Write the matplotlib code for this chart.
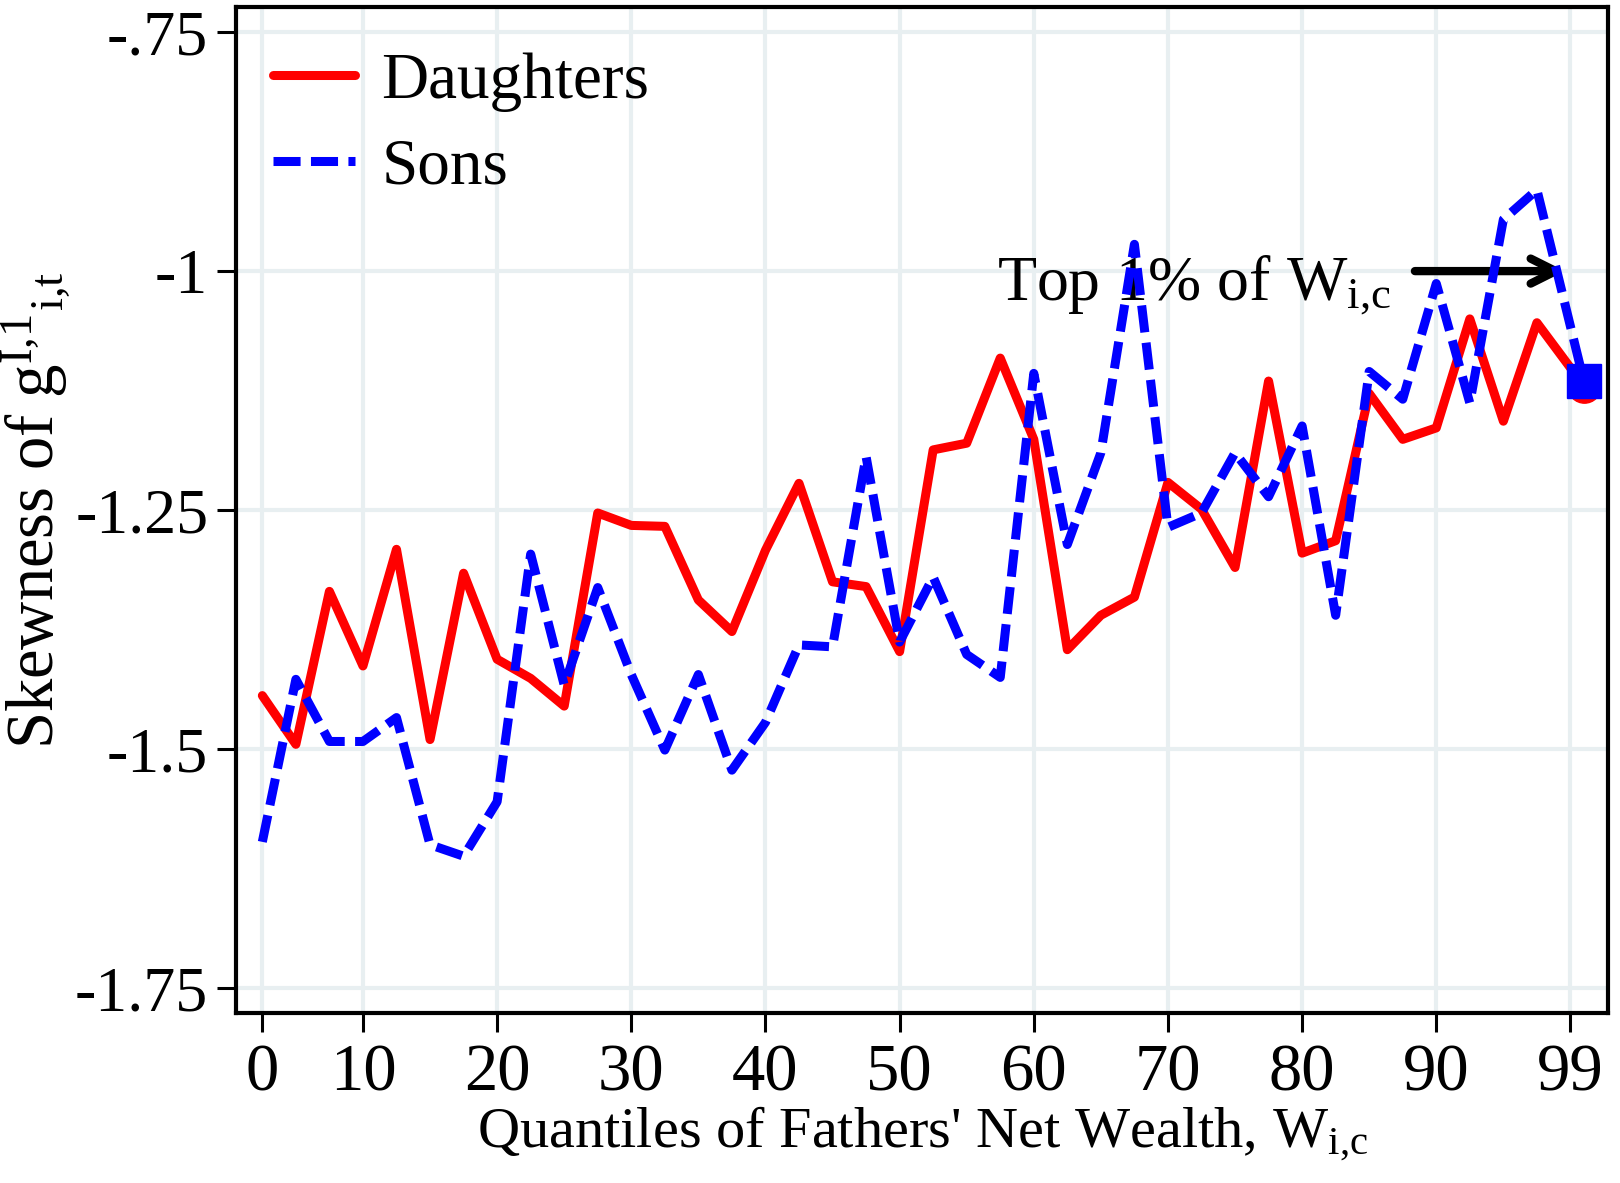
import matplotlib
matplotlib.use("Agg")
import matplotlib.pyplot as plt

plt.rcParams['font.family'] = ['Liberation Serif', 'DejaVu Serif']
plt.rcParams['mathtext.fontset'] = 'custom'
plt.rcParams['mathtext.rm'] = 'Liberation Serif'
plt.rcParams['mathtext.it'] = 'Liberation Serif'

# quantile positions (last one = top 1%)
quantiles = [2.5, 5, 7.5, 10, 12.5, 15, 17.5, 20, 22.5, 25,
             27.5, 30, 32.5, 35, 37.5, 40, 42.5, 45, 47.5, 50,
             52.5, 55, 57.5, 60, 62.5, 65, 67.5, 70, 72.5, 75,
             77.5, 80, 82.5, 85, 87.5, 90, 92.5, 95, 97.5, 101]

daughters = [-1.444, -1.495, -1.335, -1.413, -1.291, -1.490, -1.316, -1.406, -1.426, -1.455,
             -1.253, -1.266, -1.267, -1.344, -1.377, -1.292, -1.222, -1.325, -1.330, -1.398,
             -1.187, -1.180, -1.091, -1.176, -1.396, -1.360, -1.341, -1.221, -1.249, -1.310,
             -1.115, -1.295, -1.282, -1.128, -1.176, -1.164, -1.050, -1.157, -1.054, -1.120]

sons = [-1.597, -1.427, -1.492, -1.492, -1.467, -1.600, -1.612, -1.555, -1.296, -1.433,
        -1.331, -1.422, -1.501, -1.422, -1.522, -1.472, -1.391, -1.393, -1.194, -1.388,
        -1.320, -1.401, -1.425, -1.107, -1.286, -1.190, -0.972, -1.268, -1.253, -1.190,
        -1.236, -1.162, -1.360, -1.105, -1.134, -1.013, -1.138, -0.946, -0.915, -1.115]

xtick_pos = [2.5, 10, 20, 30, 40, 50, 60, 70, 80, 90, 100]
xtick_labels = ['0', '10', '20', '30', '40', '50', '60', '70', '80', '90', '99']
ytick_pos = [-0.75, -1.0, -1.25, -1.5, -1.75]
ytick_labels = ['-.75', '-1', '-1.25', '-1.5', '-1.75']

fig = plt.figure(figsize=(16.2, 11.83), dpi=100)
ax = fig.add_axes([0.1457, 0.1437, 0.8469, 0.8506])

last = len(quantiles) - 1
ax.plot(quantiles, daughters, color='#ff0000', lw=6.5, label='Daughters',
        solid_joinstyle='round', solid_capstyle='round',
        marker='o', markersize=24, markevery=[last], zorder=3)
ax.plot(quantiles, sons, color='#0000ff', lw=6.5, label='Sons',
        linestyle=(0, (3.0, 1.15)), dash_capstyle='butt',
        marker='s', markersize=25, markevery=[last], zorder=4)

ax.set_xlim(0.54, 102.8)
ax.set_ylim(-1.776, -0.7235)
ax.set_xticks(xtick_pos)
ax.set_xticklabels(xtick_labels)
ax.set_yticks(ytick_pos)
ax.set_yticklabels(ytick_labels)

ax.grid(True, color='#e8eff1', lw=3)
ax.set_axisbelow(True)
for s in ax.spines.values():
    s.set_linewidth(3)
ax.tick_params(axis='both', direction='out', length=14, width=2.2)
ax.tick_params(axis='x', labelsize=48, pad=8)
ax.tick_params(axis='y', labelsize=46, pad=6)

ax.set_xlabel("Quantiles of Fathers' Net Wealth, W$_{\\mathrm{i{,}c}}$", fontsize=42, labelpad=0)
ax.set_ylabel("Skewness of g$^{\\mathrm{I{,}1}}$$_{\\mathrm{i{,}t}}$", fontsize=48, labelpad=2)

ax.annotate('', xy=(99.8, -1.0), xytext=(88.2, -1.0),
            arrowprops=dict(arrowstyle='->', lw=6, color='black', mutation_scale=45))
ax.text(86.6, -1.03, 'Top 1% of W$_{\\mathrm{i{,}c}}$', ha='right', va='baseline', fontsize=46)

leg = ax.legend(loc='upper left', bbox_to_anchor=(-0.006, 1.0), frameon=False, fontsize=47,
                handlelength=1.25, handletextpad=0.4, labelspacing=0.4, borderaxespad=0.3)
for h in leg.legend_handles:
    h.set_marker('')

fig.savefig('out.png', dpi=100)
